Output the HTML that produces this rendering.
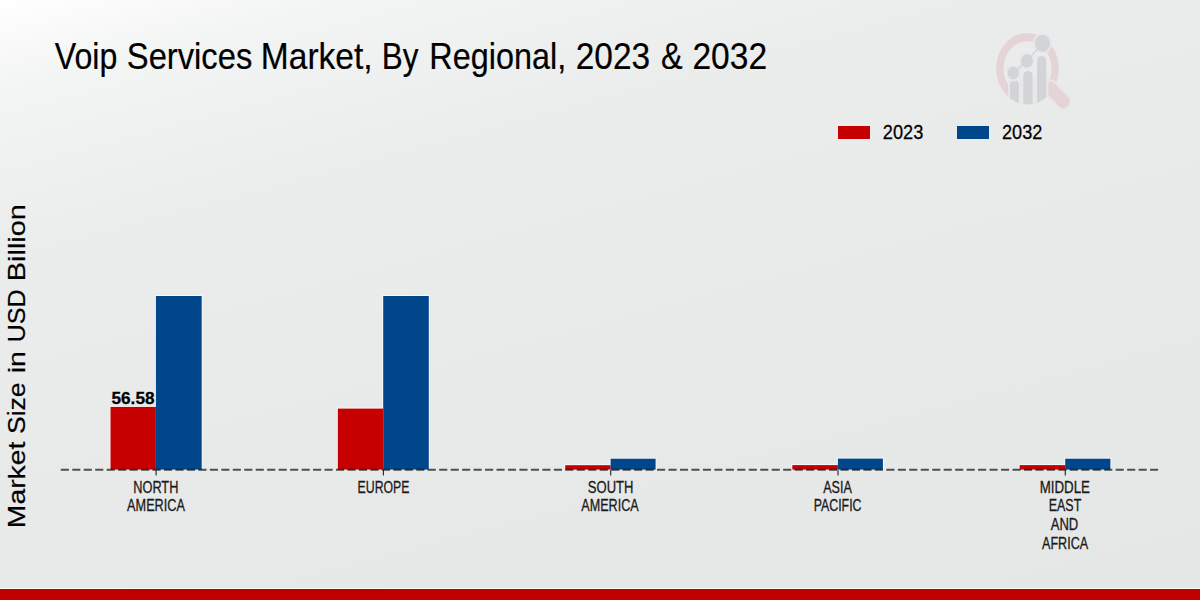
<!DOCTYPE html>
<html>
<head>
<meta charset="utf-8">
<style>
html,body{margin:0;padding:0;}
body{width:1200px;height:600px;overflow:hidden;position:relative;
  background:#e8e9e9;
  font-family:"Liberation Sans",sans-serif;}
svg{position:absolute;left:0;top:0;}
</style>
</head>
<body>
<svg width="1200" height="600" viewBox="0 0 1200 600" font-family="Liberation Sans, sans-serif">
  <defs><linearGradient id="bg" gradientUnits="userSpaceOnUse" x1="484.8" y1="-129.9" x2="715.2" y2="729.9">
    <stop offset="0" stop-color="#ffffff"/><stop offset="0.10" stop-color="#f3f4f4"/><stop offset="0.28" stop-color="#ebecec"/><stop offset="0.55" stop-color="#e8e9e9"/><stop offset="1" stop-color="#e5e6e6"/>
  </linearGradient></defs>
  <rect x="0" y="0" width="1200" height="600" fill="url(#bg)"/>
  <g id="logo" transform="translate(1027.5,68.5) scale(1,1.14) translate(-1027.5,-68.5)">
    <defs><clipPath id="bc"><circle cx="1027.5" cy="68.5" r="31.6"/></clipPath></defs>
    <circle cx="1027.5" cy="68.5" r="27.6" fill="none" stroke="#e5d4d6" stroke-width="7.3"/>
    <line x1="1050.5" y1="86" x2="1063.5" y2="97.5" stroke="#e8e8e8" stroke-width="16" stroke-linecap="round"/>
    <line x1="1050.5" y1="86" x2="1063.5" y2="97.5" stroke="#e5d4d6" stroke-width="12" stroke-linecap="round"/>
    <rect x="1008.2" y="76" width="40.2" height="40" fill="#e8e8e8" clip-path="url(#bc)"/>
    <g clip-path="url(#bc)" fill="#d3d4d7">
      <rect x="1010" y="78.6" width="8.9" height="40" rx="4.45"/>
      <rect x="1023.3" y="70.4" width="9.3" height="50" rx="4.65"/>
      <rect x="1037" y="57.3" width="9.3" height="70" rx="4.65"/>
    </g>
    <g fill="#d3d4d7" stroke="#e8e8e8" stroke-width="2">
      <circle cx="1013.2" cy="72.4" r="6.6"/>
      <circle cx="1027" cy="61.9" r="6.9"/>
      <circle cx="1042.5" cy="46.4" r="8.5"/>
    </g>
    <polyline points="1013.2,72.4 1027,61.9 1042.5,46.4" fill="none" stroke="#d3d4d7" stroke-width="1.4"/>
  </g>

  <g font-size="36.5" fill="#000" stroke="#000" stroke-width="0.2">
    <text transform="translate(54.78,69) scale(0.8809,1)">Voip</text>
    <text transform="translate(126.83,69) scale(0.8965,1)">Services</text>
    <text transform="translate(260.84,69) scale(0.9186,1)">Market,</text>
    <text transform="translate(381.72,69) scale(0.8608,1)">By</text>
    <text transform="translate(429.34,69) scale(0.8872,1)">Regional,</text>
    <text transform="translate(575.7,69) scale(0.917,1)">2023</text>
    <text transform="translate(660.89,69) scale(0.8889,1)">&amp;</text>
    <text transform="translate(692.39,69) scale(0.92,1)">2032</text>
  </g>

  <rect x="838" y="126" width="32" height="13" fill="#c60000"/>
  <text transform="translate(882.85,139.3) scale(0.896,1)" font-size="20.3" fill="#000" stroke="#000" stroke-width="0.25">2023</text>
  <rect x="957" y="126" width="32" height="13" fill="#00468a"/>
  <text transform="translate(1002.01,139.3) scale(0.8919,1)" font-size="20.3" fill="#000" stroke="#000" stroke-width="0.25">2032</text>

  <g font-size="23.5" fill="#000" stroke="#000" stroke-width="0.2">
    <text transform="translate(24.75,528.16) rotate(-90) scale(1.2036,1)">Market</text>
    <text transform="translate(24.75,433.91) rotate(-90) scale(1.1264,1)">Size</text>
    <text transform="translate(24.75,373.32) rotate(-90) scale(1.2131,1)">in</text>
    <text transform="translate(24.75,342.36) rotate(-90) scale(1.0652,1)">USD</text>
    <text transform="translate(24.75,281.16) rotate(-90) scale(1.2304,1)">Billion</text>
  </g>

  <g fill="#fbfdfd" opacity="0.9">
    <rect x="109.6" y="406.0" width="47.2" height="63.6"/>
    <rect x="155.0" y="295.1" width="47.6" height="174.5"/>
    <rect x="336.90000000000003" y="407.70000000000005" width="47.2" height="61.9"/>
    <rect x="382.3" y="295.1" width="47.4" height="174.5"/>
    <rect x="564.3000000000001" y="464.3" width="47.2" height="5.3"/>
    <rect x="609.7" y="457.8" width="46.8" height="11.8"/>
    <rect x="791.4" y="464.20000000000005" width="47.4" height="5.4"/>
    <rect x="837.0" y="457.70000000000005" width="46.8" height="11.9"/>
    <rect x="1018.7" y="464.20000000000005" width="47.4" height="5.4"/>
    <rect x="1064.3" y="457.8" width="47.0" height="11.8"/>
  </g>
  <g>
    <rect x="110.5" y="406.9" width="45.4" height="62.7" fill="#c60000"/>
    <rect x="155.9" y="296" width="45.8" height="173.6" fill="#00468a"/>
    <rect x="337.8" y="408.6" width="45.4" height="61.0" fill="#c60000"/>
    <rect x="383.2" y="296" width="45.6" height="173.6" fill="#00468a"/>
    <rect x="565.2" y="465.2" width="45.4" height="4.4" fill="#c60000"/>
    <rect x="610.6" y="458.7" width="45" height="10.9" fill="#00468a"/>
    <rect x="792.3" y="465.1" width="45.6" height="4.5" fill="#c60000"/>
    <rect x="837.9" y="458.6" width="45" height="11.0" fill="#00468a"/>
    <rect x="1019.6" y="465.1" width="45.6" height="4.5" fill="#c60000"/>
    <rect x="1065.2" y="458.7" width="45.2" height="10.9" fill="#00468a"/>
  </g>

  <line x1="60.8" y1="469.75" x2="1158.2" y2="469.75" stroke="#000" stroke-opacity="0.66" stroke-width="1.9" stroke-dasharray="8.1 3.366"/>
  <g stroke="#222" stroke-width="1.1">
    <line x1="156.1" y1="470" x2="156.1" y2="475.5"/>
    <line x1="383.4" y1="470" x2="383.4" y2="475.5"/>
    <line x1="610.7" y1="470" x2="610.7" y2="475.5"/>
    <line x1="838" y1="470" x2="838" y2="475.5"/>
    <line x1="1065.3" y1="470" x2="1065.3" y2="475.5"/>
  </g>

  <text transform="translate(111.49,404) scale(1.012,1)" font-size="17" font-weight="bold" fill="#000" stroke="#000" stroke-width="0.25">56.58</text>

  <g font-size="16.7" fill="#1a1a1a" stroke="#1a1a1a" stroke-width="0.3">
    <text transform="translate(133.24,492.8) scale(0.7646,1)">NORTH</text>
    <text transform="translate(127.1,511) scale(0.7605,1)">AMERICA</text>
    <text transform="translate(357.58,492.8) scale(0.7358,1)">EUROPE</text>
    <text transform="translate(587.81,492.8) scale(0.7804,1)">SOUTH</text>
    <text transform="translate(581.25,511) scale(0.7546,1)">AMERICA</text>
    <text transform="translate(823.25,492.8) scale(0.75,1)">ASIA</text>
    <text transform="translate(813.67,511) scale(0.741,1)">PACIFIC</text>
    <text transform="translate(1039.7,492.8) scale(0.7967,1)">MIDDLE</text>
    <text transform="translate(1048.77,511) scale(0.7452,1)">EAST</text>
    <text transform="translate(1050.7,530) scale(0.7826,1)">AND</text>
    <text transform="translate(1042.0,549) scale(0.7541,1)">AFRICA</text>
  </g>

  <rect x="0" y="588" width="1200" height="1" fill="#f4fbfb"/>
  <rect x="0" y="589" width="1200" height="11" fill="#c00000"/>
</svg>
</body>
</html>
